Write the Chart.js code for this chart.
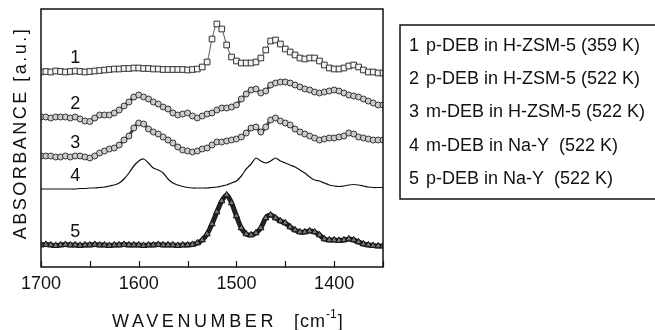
<!DOCTYPE html>
<html lang="en">
<head>
<meta charset="UTF-8" />
<title>IR spectra of DEB in zeolites</title>
<script src="https://cdn.jsdelivr.net/npm/chart.js"></script>
<style>
  body { margin: 0; background: #fff; }
  #wrap { width: 655px; height: 330px; }
</style>
</head>
<body>
<div id="wrap"><canvas id="chart" width="655" height="330"></canvas></div>
<script>
// wavenumber grid (cm-1), read every 5 cm-1 off the figure
const wavenumbers = [
  1700,1695,1690,1685,1680,1675,1670,1665,1660,1655,
  1650,1645,1640,1635,1630,1625,1620,1615,1610,1605,
  1600,1595,1590,1585,1580,1575,1570,1565,1560,1555,
  1550,1545,1540,1535,1530,1525,1520,1515,1510,1505,
  1500,1495,1490,1485,1480,1475,1470,1465,1460,1455,
  1450,1445,1440,1435,1430,1425,1420,1415,1410,1405,
  1400,1395,1390,1385,1380,1375,1370,1365,1360,1355,1350
];

// absorbance traces (arbitrary units, already stacked)
const spectrum1 = [
  195,195.5,195,196,195.5,195,195.5,196,195.5,195,
  195.5,196,196.5,197,197.5,198,198,198.5,198.5,199,
  199,198.5,198.5,198,198,197.5,197.5,197.5,197.5,197.5,
  197,197.5,198,200,205,228,243,238,222,210,
  206,204,204,204,205,209,217,226,227,223,
  218,215,212,209,208,209,209,206,202,199,
  198,198,199,201,202,200,197,195,195,194,194
];
const spectrum2 = [
  150,150,149,150,150,150,149,150,148,146,
  145.5,149,152,152,152,154,157,161,165,170,
  172,170,168,165,163,160,158,154,152,153,
  154,151,149,151,153,154,157,159,159,160,
  162,168,173,177,178,174,176,182,184,185,
  185,184,182,180,178,177,175,174,175,176,
  177,176,174,172,171,170,168,166,164,162,162
];
const spectrum3 = [
  111,111,111,110,110,111,110,111,111,110,
  109,111,114,116,118,119,122,127,131,139,
  144,143,138,135,133,130,127,124,120,117,
  116,115,116,118,119,122,125,125,126,127,
  128,130,134,139,140,135,140,147,149,146,
  144,142,138,135,133,131,129,127,128,129,
  129,130,131,134,133,130,129,128,127,127,127
];
const spectrum4 = [
  78,78,78,78,78,78,78,78,78.5,78.5,
  79,79,79.5,80,81,82,84,88,94,101,
  106,108,104,99,97,94,88,84,82,80.5,
  79.5,79,79,79,79,79.5,80,81,82,84,
  86,91,98,103,109,106,104,106,109,106,
  104,102,100,97,94,90,87,86,84,82,
  81,80.5,81,82,82.5,82,81,80,79.5,79.5,79.5
];
const spectrum5 = [
  22,22.5,22,21.5,22,22.5,22,22,21.5,22,
  22,22.5,22,22,21.5,22,22,22.5,22,22,
  22,21.5,22,22,22.5,22,22,22,21.5,22,
  22,22.5,24,27,33,43,55,66,72,64,
  51,39,33,32,34,39,49,52,49,46,
  44,40,37,35,35,36,35,32,28,27,
  27,26.5,27,28,27,25,23,22,21.5,21,21
];

const curveNumbers = ["1", "2", "3", "4", "5"];
const seriesNames = [
  "p-DEB in H-ZSM-5 (359 K)",
  "p-DEB in H-ZSM-5 (522 K)",
  "m-DEB in H-ZSM-5 (522 K)",
  "m-DEB in Na-Y  (522 K)",
  "p-DEB in Na-Y  (522 K)"
];
const xTickLabels = [1700, 1600, 1500, 1400];
const labelWavenumber = 1665; // where the curve numbers sit

const spectra = [spectrum1, spectrum2, spectrum3, spectrum4, spectrum5];
const FONT = "'Liberation Sans', Arial, sans-serif";

function toPoints(values) {
  return wavenumbers.map((w, i) => ({ x: w, y: values[i] }));
}

const styles = [
  { pointStyle: "rect", pointRadius: 4, pointBackgroundColor: "#f4f4f4", pointBorderColor: "#333", borderColor: "#555", borderWidth: 1 },
  { pointStyle: "circle", pointRadius: 3, pointBackgroundColor: "#ccc", pointBorderColor: "#333", borderColor: "#444", borderWidth: 3 },
  { pointStyle: "circle", pointRadius: 3, pointBackgroundColor: "#ccc", pointBorderColor: "#333", borderColor: "#444", borderWidth: 3 },
  { pointRadius: 0, borderColor: "#111", borderWidth: 1.2 },
  { pointStyle: "triangle", pointRadius: 3.6, pointBackgroundColor: "#777", pointBorderColor: "#111", borderColor: "#222", borderWidth: 5 }
];

// frame, inward ticks, axis titles, curve numbers and legend box
const decorations = {
  id: "decorations",
  afterDraw(chart) {
    const ctx = chart.ctx;
    const area = chart.chartArea;
    const xs = chart.scales.x;
    const ys = chart.scales.y;
    ctx.save();
    ctx.strokeStyle = "#111";
    ctx.lineWidth = 1.5;
    ctx.strokeRect(area.left, area.top, area.right - area.left, area.bottom - area.top);

    ctx.lineWidth = 1.2;
    xs.ticks.forEach(t => {
      const px = Math.round(xs.getPixelForValue(t.value)) + 0.5;
      ctx.beginPath();
      ctx.moveTo(px, area.bottom);
      ctx.lineTo(px, area.bottom - 6);
      ctx.stroke();
    });

    ctx.fillStyle = "#111";
    ctx.font = "18px " + FONT;
    ctx.textAlign = "center";
    ctx.textBaseline = "middle";
    const idx = wavenumbers.indexOf(labelWavenumber);
    spectra.forEach((s, i) => {
      const px = xs.getPixelForValue(labelWavenumber);
      const py = ys.getPixelForValue(s[idx]) - 13;
      ctx.fillText(curveNumbers[i], px, py);
    });

    // x title
    ctx.textAlign = "left";
    ctx.textBaseline = "alphabetic";
    ctx.letterSpacing = "3.6px";
    ctx.font = "18px " + FONT;
    ctx.fillText("WAVENUMBER", 112, 327);
    ctx.letterSpacing = "1px";
    ctx.fillText("[cm", 294, 327);
    let w = ctx.measureText("[cm").width;
    ctx.font = "12px " + FONT;
    ctx.letterSpacing = "0px";
    ctx.fillText("-1", 294 + w, 318);
    const w2 = ctx.measureText("-1").width;
    ctx.font = "18px " + FONT;
    ctx.fillText("]", 294 + w + w2 + 1, 327);

    // y title
    ctx.save();
    ctx.translate(26, 133);
    ctx.rotate(-Math.PI / 2);
    ctx.textAlign = "center";
    ctx.letterSpacing = "2.5px";
    ctx.fillText("ABSORBANCE [a.u.]", 0, 0);
    ctx.restore();

    // legend box
    ctx.letterSpacing = "0px";
    ctx.lineWidth = 1.5;
    ctx.strokeRect(400, 25, 270, 174);
    ctx.font = "18px " + FONT;
    ctx.textBaseline = "middle";
    ctx.textAlign = "left";
    seriesNames.forEach((name, i) => {
      const y = 46 + i * 33.2;
      ctx.fillText(curveNumbers[i], 409, y);
      ctx.fillText(name, 426, y);
    });
    ctx.restore();
  }
};

new Chart(document.getElementById("chart"), {
  type: "line",
  data: {
    datasets: spectra.map((s, i) => Object.assign({
      label: seriesNames[i],
      data: toPoints(s),
      fill: false,
      tension: 0.3,
      pointBorderWidth: 1
    }, styles[i]))
  },
  options: {
    responsive: false,
    animation: false,
    events: [],
    layout: { padding: { top: 9, right: 272, left: 0, bottom: 0 } },
    plugins: { legend: { display: false }, tooltip: { enabled: false } },
    scales: {
      x: {
        type: "linear",
        reverse: true,
        min: 1350,
        max: 1700,
        grid: { display: false, drawTicks: false },
        border: { display: false },
        ticks: {
          stepSize: 50,
          padding: 6,
          maxRotation: 0,
          color: "#111",
          font: { size: 18, family: FONT },
          callback: v => xTickLabels.includes(v) ? String(v) : ""
        },
        afterFit: s => { s.height = 63; }
      },
      y: {
        min: 0,
        max: 258,
        grid: { display: false, drawTicks: false },
        border: { display: false },
        ticks: { display: false },
        afterFit: s => { s.width = 41; }
      }
    }
  },
  plugins: [decorations]
});
</script>
</body>
</html>
